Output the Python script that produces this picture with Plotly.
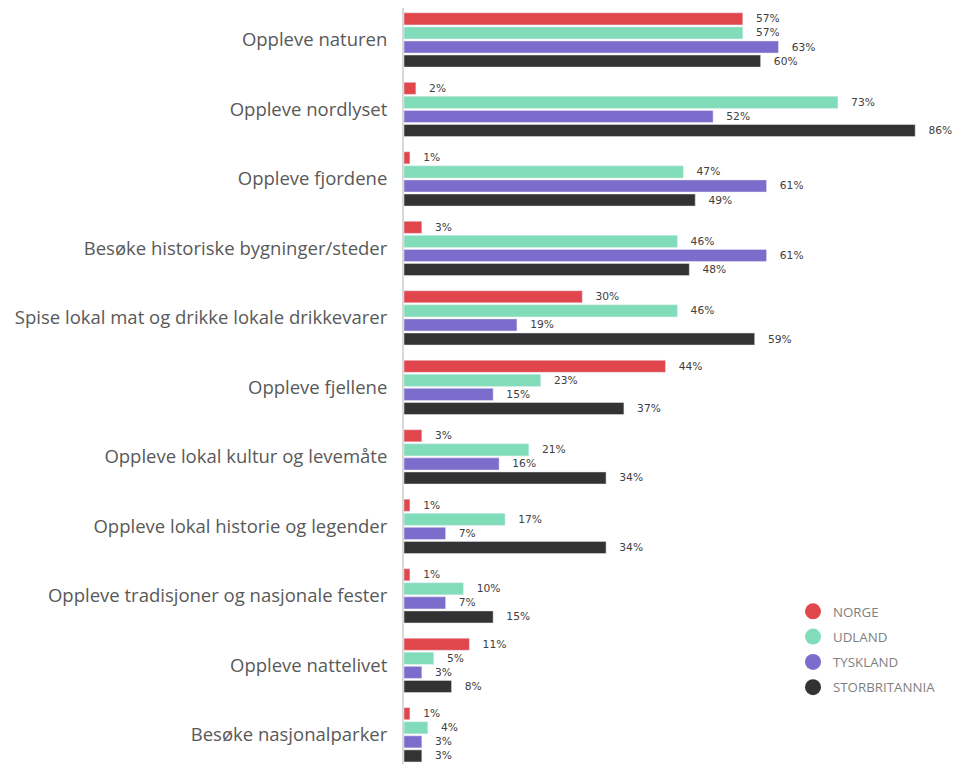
import plotly.graph_objects as go

categories = [
    "Oppleve naturen",
    "Oppleve nordlyset",
    "Oppleve fjordene",
    "Besøke historiske bygninger/steder",
    "Spise lokal mat og drikke lokale drikkevarer",
    "Oppleve fjellene",
    "Oppleve lokal kultur og levemåte",
    "Oppleve lokal historie og legender",
    "Oppleve tradisjoner og nasjonale fester",
    "Oppleve nattelivet",
    "Besøke nasjonalparker",
]

norge = [57, 2, 1, 3, 30, 44, 3, 1, 1, 11, 1]
udland = [57, 73, 47, 46, 46, 23, 21, 17, 10, 5, 4]
tyskland = [63, 52, 61, 61, 19, 15, 16, 7, 7, 3, 3]
storbritannia = [60, 86, 49, 48, 59, 37, 34, 34, 15, 8, 3]

series = [
    ("NORGE", norge, "#E0464B"),
    ("UDLAND", udland, "#81DCB9"),
    ("TYSKLAND", tyskland, "#7C6CCB"),
    ("STORBRITANNIA", storbritannia, "#333333"),
]

fig = go.Figure()

for name, vals, color in series:
    fig.add_trace(go.Bar(
        y=categories,
        x=vals,
        orientation="h",
        marker=dict(color=color),
        text=["\u00a0\u00a0\u00a0" + f"{v}%" for v in vals],
        textposition="outside",
        constraintext="none",
        cliponaxis=False,
        textfont=dict(family="DejaVu Sans", size=10.7, color="#404040"),
        showlegend=False,
        hoverinfo="skip",
    ))

# circle markers for the legend
for name, vals, color in series:
    fig.add_trace(go.Scatter(
        x=[None], y=[None],
        mode="markers",
        name=name,
        legendgroup=name,
        marker=dict(symbol="circle", size=16, color=color),
    ))

fig.update_layout(
    width=955,
    height=764,
    margin=dict(l=404, r=0, t=8, b=0),
    paper_bgcolor="white",
    plot_bgcolor="white",
    barmode="group",
    bargap=0.19,
    bargroupgap=0.14,
    xaxis=dict(
        range=[0, 92.7],
        visible=False,
    ),
    yaxis=dict(
        range=[10.42, -0.46],
        showgrid=False,
        zeroline=False,
        showline=True,
        linecolor="#d9d9d9",
        linewidth=2,
        ticks="",
        ticklabelstandoff=11,
        tickfont=dict(family="Open Sans", size=18.5, color="#595959"),
    ),
    legend=dict(
        x=0.706, y=0.222,
        xanchor="left", yanchor="top",
        font=dict(family="Open Sans", size=13.3, color="#7f7f7f"),
        tracegroupgap=5,
        itemsizing="trace",
        bgcolor="rgba(0,0,0,0)",
    ),
)

# drop the default 8px body margin so the figure fills the window
fig.write_html(
    "out.html",
    config={"displayModeBar": False},
    post_script="document.body.style.margin='0px';",
)
